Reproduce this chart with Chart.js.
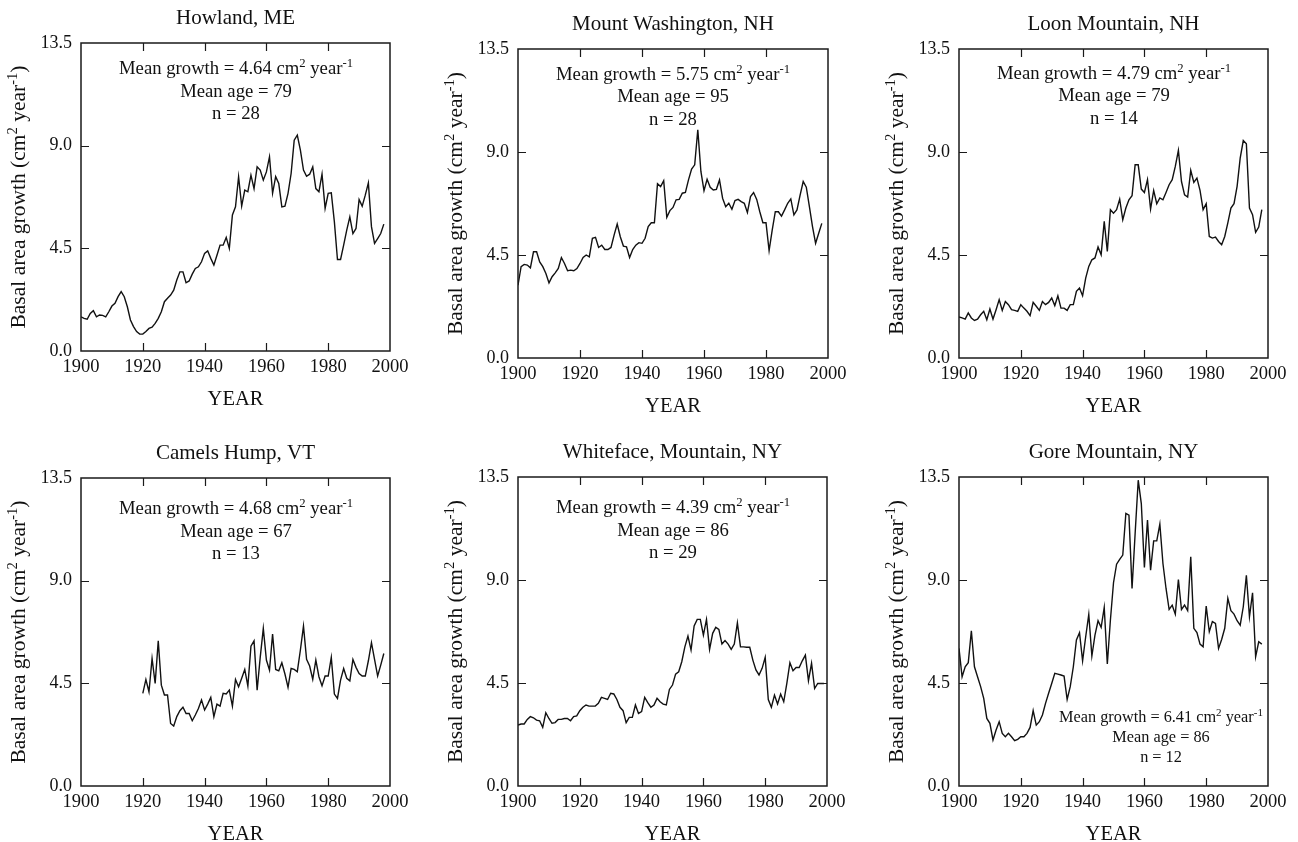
<!DOCTYPE html>
<html>
<head>
<meta charset="utf-8">
<title>Basal area growth</title>
<script src="https://cdn.jsdelivr.net/npm/chart.js@4.4.1/dist/chart.umd.min.js"></script>
<style>
  html, body { margin: 0; padding: 0; background: #fff; overflow: hidden; }
  #page { position: relative; width: 1298px; height: 842px; }
  #page canvas { position: absolute; }
</style>
</head>
<body>
<div id="page"></div>
<script>
// Axis ticks
const xTicks = [1900, 1920, 1940, 1960, 1980, 2000];
const yTicks = [0, 4.5, 9.0, 13.5];

// Basal area growth (cm2 / year), one value per year from the start year
const howlandStart = 1900;
const howland = [
  1.50, 1.43, 1.39, 1.65, 1.77, 1.50, 1.58, 1.56, 1.50, 1.72,
  1.97, 2.09, 2.38, 2.60, 2.38, 1.94, 1.36, 1.07, 0.85, 0.74,
  0.74, 0.85, 0.99, 1.04, 1.21, 1.43, 1.72, 2.16, 2.31, 2.45,
  2.67, 3.11, 3.47, 3.47, 2.99, 3.07, 3.37, 3.62, 3.69, 3.91,
  4.28, 4.39, 4.06, 3.77, 4.20, 4.64, 4.64, 4.98, 4.50, 5.96,
  6.32, 7.64, 6.35, 7.05, 6.98, 7.71, 7.12, 8.07, 7.93, 7.49,
  7.85, 8.51, 6.91, 7.64, 7.34, 6.32, 6.35, 6.91, 7.78, 9.24,
  9.46, 8.80, 7.93, 7.66, 7.75, 8.07, 7.12, 6.98, 7.75, 6.25,
  6.91, 6.93, 5.66, 4.01, 4.01, 4.64, 5.30, 5.88, 5.15, 5.37,
  6.64, 6.35, 6.83, 7.37, 5.45, 4.72, 4.93, 5.15, 5.56
];

const washingtonStart = 1900;
const washington = [
  3.18, 3.99, 4.09, 4.06, 3.94, 4.64, 4.64, 4.20, 3.99, 3.69,
  3.28, 3.55, 3.72, 3.91, 4.39, 4.13, 3.81, 3.84, 3.81, 3.91,
  4.13, 4.39, 4.50, 4.42, 5.23, 5.27, 4.83, 4.93, 4.74, 4.74,
  4.83, 5.37, 5.85, 5.30, 4.89, 4.86, 4.39, 4.74, 4.93, 5.04,
  5.01, 5.23, 5.74, 5.91, 5.91, 7.61, 7.49, 7.75, 6.15, 6.44,
  6.58, 6.91, 6.93, 7.20, 7.23, 7.78, 8.25, 8.44, 9.97, 8.15,
  7.31, 7.81, 7.46, 7.34, 7.37, 7.78, 6.98, 6.61, 6.76, 6.50,
  6.88, 6.93, 6.83, 6.76, 6.36, 7.05, 7.23, 6.93, 6.39, 5.91,
  5.91, 4.69, 5.59, 6.39, 6.39, 6.20, 6.47, 6.76, 6.95, 6.25,
  6.47, 7.12, 7.71, 7.46, 6.61, 5.74, 5.01, 5.45, 5.88
];

const loonStart = 1900;
const loon = [
  1.79, 1.75, 1.70, 1.97, 1.75, 1.64, 1.70, 1.89, 2.04, 1.67,
  2.14, 1.70, 2.11, 2.55, 2.08, 2.47, 2.33, 2.11, 2.08, 2.04,
  2.33, 2.18, 2.04, 1.85, 2.43, 2.26, 2.08, 2.47, 2.33, 2.43,
  2.62, 2.29, 2.72, 2.18, 2.18, 2.08, 2.33, 2.33, 2.91, 3.06,
  2.72, 3.49, 4.00, 4.29, 4.37, 4.85, 4.51, 5.97, 4.66, 6.48,
  6.33, 6.48, 6.94, 6.04, 6.55, 6.91, 7.09, 8.44, 8.44, 7.38,
  7.23, 7.79, 6.51, 7.32, 6.74, 6.99, 6.91, 7.23, 7.57, 7.79,
  8.37, 9.07, 7.71, 7.13, 7.03, 8.20, 7.67, 7.86, 7.32, 6.48,
  6.74, 5.31, 5.24, 5.28, 5.09, 4.95, 5.31, 5.90, 6.55, 6.74,
  7.50, 8.73, 9.50, 9.36, 6.55, 6.26, 5.49, 5.72, 6.48
];

const camelsStart = 1920;
const camels = [
  4.06, 4.67, 4.13, 5.59, 4.50, 6.36, 4.42, 3.99, 3.99, 2.74,
  2.63, 3.04, 3.30, 3.45, 3.18, 3.18, 2.86, 3.11, 3.40, 3.77,
  3.33, 3.59, 3.88, 3.04, 3.59, 3.50, 4.06, 4.03, 4.20, 3.50,
  4.67, 4.35, 4.72, 5.11, 4.38, 6.13, 6.36, 4.20, 5.64, 6.91,
  5.52, 5.08, 6.66, 5.11, 5.05, 5.40, 4.91, 4.32, 5.15, 5.11,
  5.01, 5.96, 7.01, 5.55, 5.26, 4.67, 5.52, 4.79, 4.39, 4.82,
  4.82, 5.64, 4.03, 3.84, 4.64, 5.15, 4.72, 4.61, 5.55, 5.20,
  4.93, 4.82, 4.82, 5.49, 6.28, 5.55, 4.82, 5.30, 5.81
];

const whitefaceStart = 1900;
const whiteface = [
  2.66, 2.71, 2.71, 2.91, 3.03, 2.98, 2.88, 2.85, 2.56, 3.20,
  2.95, 2.74, 2.77, 2.91, 2.91, 2.95, 2.95, 2.85, 3.03, 3.06,
  3.29, 3.44, 3.54, 3.49, 3.49, 3.49, 3.61, 3.87, 3.83, 3.78,
  4.05, 4.02, 3.78, 3.44, 3.29, 2.77, 3.00, 3.00, 3.54, 3.17,
  3.25, 3.87, 3.64, 3.44, 3.54, 3.83, 3.68, 3.58, 3.54, 4.22,
  4.41, 4.89, 4.99, 5.43, 6.08, 6.55, 5.94, 6.99, 7.28, 7.28,
  6.59, 7.28, 5.97, 6.67, 6.93, 6.84, 6.20, 6.35, 6.20, 5.97,
  6.20, 7.13, 6.08, 6.08, 6.06, 6.06, 5.50, 5.07, 4.85, 5.14,
  5.62, 3.78, 3.44, 3.97, 3.58, 4.02, 3.68, 4.48, 5.39, 5.04,
  5.18, 5.18, 5.47, 5.72, 4.60, 5.36, 4.26, 4.48, 4.48, 4.48
];

const goreStart = 1900;
const gore = [
  6.01, 4.77, 5.21, 5.39, 6.78, 5.21, 4.77, 4.34, 3.83, 2.95,
  2.74, 2.01, 2.45, 2.81, 2.30, 2.15, 2.30, 2.15, 1.98, 2.04,
  2.15, 2.15, 2.30, 2.56, 3.29, 2.66, 2.81, 3.10, 3.61, 4.05,
  4.48, 4.92, 4.89, 4.85, 4.80, 3.78, 4.34, 5.21, 6.38, 6.70,
  5.47, 6.52, 7.50, 5.68, 6.59, 7.22, 6.93, 7.80, 5.33, 7.25,
  8.88, 9.69, 9.90, 10.09, 11.91, 11.83, 8.63, 11.03, 13.36, 12.34,
  9.55, 11.62, 9.43, 10.71, 10.71, 11.44, 9.72, 8.63, 7.71, 7.90,
  7.51, 9.02, 7.71, 7.90, 7.66, 10.01, 6.89, 6.70, 6.20, 6.08,
  7.86, 6.74, 7.18, 7.10, 6.01, 6.40, 6.89, 8.20, 7.66, 7.51,
  7.22, 7.03, 7.83, 9.21, 7.39, 8.44, 5.65, 6.30, 6.20
];

// Panel titles and summary lines
const titles = ['Howland, ME', 'Mount Washington, NH', 'Loon Mountain, NH',
  'Camels Hump, VT', 'Whiteface, Mountain, NY', 'Gore Mountain, NY'];
const meanGrowth = ['4.64', '5.75', '4.79', '4.68', '4.39', '6.41'];
const meanAge = [79, 95, 79, 67, 86, 86];
const sampleSize = [28, 28, 14, 13, 29, 12];

const SERIF = '"Liberation Serif", "Times New Roman", Times, serif';

// plot boxes on the page: left, top, right, bottom
const boxes = [
  [81, 43, 390, 351], [518, 49, 828, 358], [959, 49, 1268, 358],
  [81, 478, 390, 786], [518, 477, 827, 786], [959, 477, 1268, 786]
];
const series = [
  [howlandStart, howland], [washingtonStart, washington], [loonStart, loon],
  [camelsStart, camels], [whitefaceStart, whiteface], [goreStart, gore]
];

// draw text made of [string, isSuperscript] pieces, centred at x,y
function richText(ctx, parts, x, y, size) {
  const supSize = size * 0.68;
  const widths = parts.map(([s, sup]) => {
    ctx.font = (sup ? supSize : size) + 'px ' + SERIF;
    return ctx.measureText(s).width;
  });
  let cx = x - widths.reduce((a, b) => a + b, 0) / 2;
  ctx.textAlign = 'left';
  ctx.textBaseline = 'alphabetic';
  parts.forEach(([s, sup], i) => {
    ctx.font = (sup ? supSize : size) + 'px ' + SERIF;
    ctx.fillText(s, cx, y + size * 0.33 - (sup ? size * 0.38 : 0));
    cx += widths[i];
  });
}

const panelDecor = {
  id: 'panelDecor',
  afterDraw(chart, args, opts) {
    const { ctx, chartArea: a, scales } = chart;
    ctx.save();
    ctx.strokeStyle = '#1a1a1a';
    ctx.lineWidth = 1.5;
    ctx.strokeRect(a.left, a.top, a.right - a.left, a.bottom - a.top);

    // inward tick marks on all four sides
    ctx.lineWidth = 1.2;
    ctx.beginPath();
    scales.x.ticks.forEach(t => {
      if (t.value <= xTicks[0] || t.value >= xTicks[xTicks.length - 1]) return;
      const px = Math.round(scales.x.getPixelForValue(t.value)) + 0.5;
      ctx.moveTo(px, a.bottom); ctx.lineTo(px, a.bottom - 8);
      ctx.moveTo(px, a.top); ctx.lineTo(px, a.top + 8);
    });
    scales.y.ticks.forEach(t => {
      if (t.value <= yTicks[0] || t.value >= yTicks[yTicks.length - 1]) return;
      const py = Math.round(scales.y.getPixelForValue(t.value)) + 0.5;
      ctx.moveTo(a.left, py); ctx.lineTo(a.left + 8, py);
      ctx.moveTo(a.right, py); ctx.lineTo(a.right - 8, py);
    });
    ctx.stroke();

    const midX = (a.left + a.right) / 2;
    const midY = (a.top + a.bottom) / 2;
    ctx.fillStyle = '#111';

    // panel title
    richText(ctx, [[opts.title, false]], midX, a.top - 25.5, 21);

    // x axis title
    richText(ctx, [['YEAR', false]], midX, a.bottom + 47, 20.5);

    // y axis title, rotated
    ctx.save();
    ctx.translate(a.left - 63, midY);
    ctx.rotate(-Math.PI / 2);
    richText(ctx, [['Basal area growth (cm', false], ['2', true], [' year', false], ['-1', true], [')', false]], 0, 0, 21.5);
    ctx.restore();

    // summary text
    const n = opts.note;
    richText(ctx, [['Mean growth = ' + n.growth + ' cm', false], ['2', true], [' year', false], ['-1', true]],
      a.left + n.dx, a.top + n.dy, n.size);
    richText(ctx, [['Mean age = ' + n.age, false]], a.left + n.dx, a.top + n.dy + n.gap, n.size);
    richText(ctx, [['n = ' + n.n, false]], a.left + n.dx, a.top + n.dy + 2 * n.gap, n.size);
    ctx.restore();
  }
};

const page = document.getElementById('page');
const noteSpots = [
  { dx: 155, dy: 25, gap: 22.5, size: 18.7 },
  { dx: 155, dy: 24.5, gap: 22.5, size: 18.7 },
  { dx: 155, dy: 23.5, gap: 22.5, size: 18.7 },
  { dx: 155, dy: 30, gap: 22.5, size: 18.7 },
  { dx: 155, dy: 30, gap: 22.5, size: 18.7 },
  { dx: 202, dy: 240, gap: 20, size: 16.3 }
];

boxes.forEach((b, i) => {
  const [left, top, right, bottom] = b;
  const padL = 81, padT = 43, padR = 30, padB = 56;
  const canvas = document.createElement('canvas');
  const w = right - left + padL + padR;
  const h = bottom - top + padT + padB;
  canvas.width = w;
  canvas.height = h;
  canvas.style.left = (left - padL) + 'px';
  canvas.style.top = (top - padT) + 'px';
  canvas.style.width = w + 'px';
  canvas.style.height = h + 'px';
  page.appendChild(canvas);

  const [start, values] = series[i];
  const note = Object.assign({
    growth: meanGrowth[i], age: meanAge[i], n: sampleSize[i]
  }, noteSpots[i]);

  new Chart(canvas.getContext('2d'), {
    type: 'line',
    data: {
      datasets: [{
        data: values.map((v, k) => ({ x: start + k, y: v })),
        borderColor: '#111',
        borderWidth: 1.4,
        pointRadius: 0,
        tension: 0,
        fill: false
      }]
    },
    options: {
      responsive: false,
      animation: false,
      devicePixelRatio: 1,
      layout: { padding: { top: padT, right: padR, left: 0, bottom: 0 } },
      scales: {
        x: {
          type: 'linear',
          min: xTicks[0],
          max: xTicks[xTicks.length - 1],
          afterBuildTicks: s => { s.ticks = xTicks.map(v => ({ value: v })); },
          afterFit: s => { s.height = padB; },
          grid: { display: false, drawTicks: false },
          border: { display: false },
          ticks: {
            color: '#111',
            padding: 5,
            maxRotation: 0,
            autoSkip: false,
            font: { family: SERIF, size: 18.5 },
            callback: v => String(v)
          }
        },
        y: {
          min: yTicks[0],
          max: yTicks[yTicks.length - 1],
          afterBuildTicks: s => { s.ticks = yTicks.map(v => ({ value: v })); },
          afterFit: s => { s.width = padL; },
          grid: { display: false, drawTicks: false },
          border: { display: false },
          ticks: {
            color: '#111',
            padding: 9,
            font: { family: SERIF, size: 18 },
            callback: v => v.toFixed(1)
          }
        }
      },
      plugins: {
        legend: { display: false },
        tooltip: { enabled: false },
        panelDecor: { title: titles[i], note: note }
      }
    },
    plugins: [panelDecor]
  });
});
</script>
</body>
</html>
